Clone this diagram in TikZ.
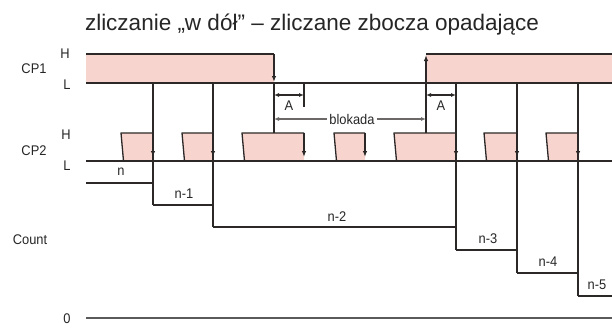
\documentclass[tikz,border=0pt]{standalone}
\usepackage{fontspec}
\setmainfont{Liberation Sans}
\usetikzlibrary{arrows.meta}
\definecolor{lc}{RGB}{45,40,40}
\definecolor{pinkf}{RGB}{247,213,206}
\definecolor{zl}{RGB}{90,90,90}
\tikzset{
  sig/.style={draw=lc, line width=1.3pt},
  edgearr/.style={sig, -{Latex[length=6pt,width=4.5pt]}},
  dimarr/.style={draw=lc, line width=1.1pt, {Latex[length=5pt,width=4pt]}-{Latex[length=5pt,width=4pt]}},
  lbl/.style={font=\fontsize{14}{14}\selectfont, inner sep=0pt, text=black!85, xscale=0.92},
  pfill/.style={fill=pinkf}
}
\begin{document}
\begin{tikzpicture}[x=1pt,y=-1pt]
\useasboundingbox (0,0) rectangle (612,327);
% title
\node[inner sep=0pt, anchor=base, font=\fontsize{22.5}{22.5}\selectfont, text=black!85] (title) at (312,30) {zliczanie „w dół” – zliczane zbocza opadające};
% labels
\node[lbl] (cp1) at (34,69) {CP1};
\node[lbl] (h1) at (65,54) {H};
\node[lbl] (l1) at (67,85) {L};
\node[lbl] (cp2) at (34,151) {CP2};
\node[lbl] (h2) at (66,135) {H};
\node[lbl] (l2) at (67,166) {L};
\node[lbl] (cnt) at (30,240) {Count};
\node[lbl] (zero) at (67,319) {0};
\node[lbl] (c0) at (121,172) {n};
\node[lbl] (c1) at (184,194) {n-1};
\node[lbl] (c2) at (337,217) {n-2};
\node[lbl] (c3) at (488,239) {n-3};
\node[lbl] (c4) at (548,262) {n-4};
\node[lbl] (c5) at (597,285) {n-5};
% CP1 fills
\fill[pfill] (86,54) rectangle (274,83);
\fill[pfill] (426,54) rectangle (612,83);
% CP2 pulses
\foreach \a/\b in {121/153,182/213,242/304,334/365,394/456,484/517,546/578}{
  \fill[pfill] (\a+2.5,161) -- (\a,133) -- (\b,133) -- (\b,161) -- cycle;
  \draw[sig, line join=round] (\a+2.5,161) -- (\a,133) -- (\b,133);
  \draw[edgearr] (\b,133) -- (\b,157);
}
% CP1 signal
\draw[sig] (86,54) -- (274,54);
\draw[edgearr] (274,54) -- (274,82);
\draw[sig] (86,83) -- (612,83);
\draw[edgearr] (426,83) -- (426,55);
\draw[sig] (426,54) -- (612,54);
% CP2 L line
\draw[sig] (86,161) -- (612,161);
% lines from CP1 edges to blokada
\draw[sig] (274,83) -- (274,133);
\draw[sig] (426,83) -- (426,133);
% count verticals
\draw[sig] (153,83) -- (153,205);
\draw[sig] (213,83) -- (213,227);
\draw[sig] (456,83) -- (456,250);
\draw[sig] (517,83) -- (517,273);
\draw[sig] (578,83) -- (578,296);
% count levels
\draw[sig] (86,183) -- (153,183);
\draw[sig] (153,205) -- (213,205);
\draw[sig] (213,227) -- (456,227);
\draw[sig] (456,250) -- (517,250);
\draw[sig] (517,273) -- (578,273);
\draw[sig] (578,296) -- (612,296);
% zero line
\draw[draw=zl, line width=2.2pt] (86,318) -- (612,318);
% A dimensions
\draw[sig] (304,83) -- (304,107);
\coordinate (a1l) at (274,95);
\coordinate (a1r) at (304,95);
\coordinate (a2l) at (426,95);
\coordinate (a2r) at (456,95);
\draw[dimarr] (a1l) -- (a1r);
\draw[dimarr] (a2l) -- (a2r);
\node[lbl] (A1) at (289,106) {A};
\node[lbl] (A2) at (441,106) {A};
% blokada
\coordinate (bl) at (274,119);
\coordinate (br) at (426,119);
\draw[dimarr, draw=lc!70] (bl) -- (br);
\node[lbl, fill=white, inner xsep=3pt, inner ysep=1pt] (blk) at (352,119) {blokada};
\end{tikzpicture}
\end{document}
